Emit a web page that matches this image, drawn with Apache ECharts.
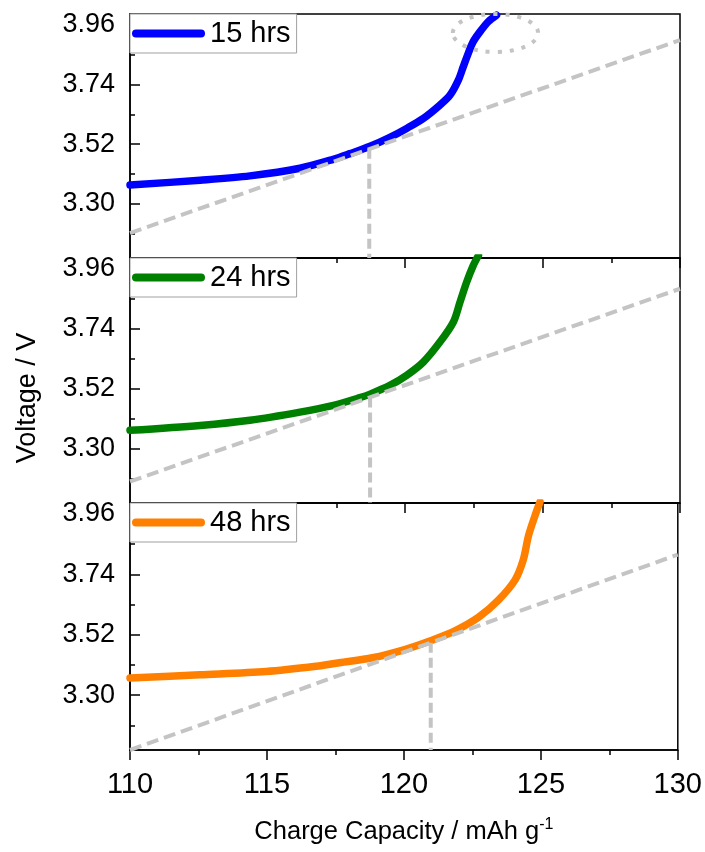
<!DOCTYPE html>
<html>
<head>
<meta charset="utf-8">
<script src="https://cdn.jsdelivr.net/npm/echarts@6/dist/echarts.min.js"></script>
<style>
html,body{margin:0;padding:0;background:#fff;}
#chart{width:705px;height:852px;}
</style>
</head>
<body>
<div id="chart"></div>
<script>
// ---- data ----
const seriesNames = ['15 hrs', '24 hrs', '48 hrs'];
const seriesColors = ['#0000ff', '#008000', '#ff8000'];

const capacity15 = [110, 112.55, 114.36, 116.18, 117.39, 118.0, 118.73, 119.45, 120.06, 120.67, 121.27, 121.64, 121.94, 122.12, 122.30, 122.48, 122.73, 123.03, 123.33];
const voltage15  = [3.369, 3.387, 3.403, 3.431, 3.464, 3.485, 3.512, 3.545, 3.578, 3.615, 3.664, 3.701, 3.756, 3.806, 3.855, 3.898, 3.935, 3.972, 3.996];

const capacity24 = [110, 112.55, 114.36, 116.18, 117.4, 118.36, 118.73, 119.45, 120.06, 120.67, 121.27, 121.76, 122.0, 122.24, 122.48, 122.67];
const voltage24  = [3.367, 3.385, 3.404, 3.434, 3.459, 3.487, 3.500, 3.532, 3.569, 3.618, 3.691, 3.765, 3.838, 3.911, 3.972, 4.009];

const capacity48 = [110, 112.55, 114.97, 116.79, 117.64, 118.85, 120.06, 120.97, 121.88, 122.73, 123.45, 124.06, 124.36, 124.55, 124.79, 124.97];
const voltage48  = [3.362, 3.374, 3.386, 3.405, 3.418, 3.436, 3.467, 3.498, 3.535, 3.584, 3.646, 3.720, 3.794, 3.881, 3.955, 4.004];

// tangent (dashed) lines: capacity endpoints and voltage endpoints per panel
const tangentCapacity = [110, 130];
const tangent15 = [3.192, 3.904];
const tangent24 = [3.179, 3.887];
const tangent48 = [3.100, 3.812];

// vertical drop lines
const dropCapacity = [118.7, 118.73, 120.98];
const dropTop = [3.503, 3.488, 3.491];
const dropBottom = 3.10;

// dotted ellipse annotation in top panel: [centerCapacity, centerVoltage, radiusCapacity, radiusVoltage]
const ellipse15 = [123.29, 3.930, 1.55, 0.070];

// axes
const xMin = 110, xMax = 130, xInterval = 5;
const yMin = 3.10, yMax = 4.00;
const yMajorTicks = [3.30, 3.52, 3.74, 3.96];
const yMinorTicks = [3.19, 3.41, 3.63, 3.85];

// ---- chart ----
const FONT = 'Liberation Sans, Arial, sans-serif';
const capacities = [capacity15, capacity24, capacity48];
const voltages = [voltage15, voltage24, voltage48];
const tangents = [tangent15, tangent24, tangent48];

const gridTops = [14, 258, 503];
const gridHeights = [244, 245, 247];

const zip = (a, b) => a.map((v, i) => [v, b[i]]);

const grids = [0,1,2].map(i => ({
  left: 130, top: gridTops[i], width: 550, height: gridHeights[i],
  show: true, borderColor: '#000', borderWidth: 1.5, backgroundColor: 'transparent'
}));

const xAxes = [0,1,2].map(i => ({
  type: 'value', gridIndex: i, min: xMin, max: xMax, interval: xInterval,
  axisLine: {show: true, onZero: false, lineStyle: {color: '#000', width: 1.5}},
  axisTick: {show: true, inside: false, length: 10, lineStyle: {color: '#000', width: 1.5}},
  minorTick: {show: true, splitNumber: 2, length: 5, lineStyle: {color: '#000', width: 1.5}},
  axisLabel: {show: i === 2, fontSize: 29, color: '#000', margin: 20, fontFamily: FONT},
  splitLine: {show: false}, minorSplitLine: {show: false},
  name: i === 2 ? '{a|Charge Capacity / mAh g}{b|-1}' : '',
  nameLocation: 'middle', nameGap: 67,
  nameTextStyle: {
    rich: {
      a: {fontSize: 25.5, color: '#000', fontFamily: FONT, lineHeight: 30},
      b: {fontSize: 16, color: '#000', fontFamily: FONT, verticalAlign: 'top', lineHeight: 30}
    }
  }
}));

const yAxes = [];
[0,1,2].forEach(i => {
  yAxes.push({
    type: 'value', gridIndex: i, min: yMin, max: yMax, position: 'left',
    axisLine: {show: true, onZero: false, lineStyle: {color: '#000', width: 1.5}},
    axisTick: {show: true, inside: true, length: 10, customValues: yMajorTicks, lineStyle: {color: '#000', width: 1.5}},
    axisLabel: {show: true, customValues: yMajorTicks, formatter: v => Number(v).toFixed(2), fontSize: 27, color: '#000', margin: 15, fontFamily: FONT},
    splitLine: {show: false}
  });
  yAxes.push({
    type: 'value', gridIndex: i, min: yMin, max: yMax, position: 'left', offset: 0,
    axisLine: {show: false},
    axisTick: {show: true, inside: true, length: 5, customValues: yMinorTicks, lineStyle: {color: '#000', width: 1.5}},
    axisLabel: {show: false},
    splitLine: {show: false}
  });
});

const series = [];
[0,1,2].forEach(i => {
  series.push({
    type: 'line', name: seriesNames[i], xAxisIndex: i, yAxisIndex: i*2,
    data: zip(capacities[i], voltages[i]), symbol: 'none', smooth: 0.3, clip: true,
    lineStyle: {width: 7.5, color: seriesColors[i], cap: 'round', join: 'round'},
    itemStyle: {color: seriesColors[i]}, z: 2, silent: true
  });
  series.push({
    type: 'line', name: 'tangent' + i, xAxisIndex: i, yAxisIndex: i*2,
    data: zip(tangentCapacity, tangents[i]), symbol: 'none', clip: true,
    lineStyle: {width: 4, color: '#c4c4c4', type: [12, 6]}, z: 3, silent: true
  });
  series.push({
    type: 'line', name: 'drop' + i, xAxisIndex: i, yAxisIndex: i*2,
    data: [[dropCapacity[i], dropTop[i]], [dropCapacity[i], dropBottom]], symbol: 'none', clip: true,
    lineStyle: {width: 4, color: '#c4c4c4', type: [10, 5]}, z: 3, silent: true
  });
});

const legendIcon = 'path://M4,0 H69 A4,4 0 0 1 69,8 H4 A4,4 0 0 1 4,0 Z';
const legends = [0,1,2].map(i => ({
  data: [{name: seriesNames[i], icon: legendIcon, itemStyle: {color: seriesColors[i]}}],
  left: 130, top: gridTops[i], orient: 'horizontal',
  itemWidth: 73, itemHeight: 8, padding: [3, 6, 3, 2],
  borderColor: '#a0a0a0', borderWidth: 1, backgroundColor: '#fff',
  selectedMode: false,
  textStyle: {fontSize: 29, color: '#000', fontFamily: FONT, lineHeight: 33}
}));

const chart = echarts.init(document.getElementById('chart'), null, {renderer: 'canvas'});
chart.setOption({
  animation: false,
  backgroundColor: '#fff',
  grid: grids, xAxis: xAxes, yAxis: yAxes, legend: legends, series: series
});

const c = chart.convertToPixel({xAxisIndex: 0, yAxisIndex: 0}, [ellipse15[0], ellipse15[1]]);
const e = chart.convertToPixel({xAxisIndex: 0, yAxisIndex: 0}, [ellipse15[0] + ellipse15[2], ellipse15[1] - ellipse15[3]]);
chart.setOption({
  graphic: [
    {
      id: 'ytitle', type: 'text', x: 28, y: 398, rotation: Math.PI / 2,
      style: {text: 'Voltage / V', fontSize: 27, fill: '#000', fontFamily: FONT, align: 'center', verticalAlign: 'middle'}
    },
    {
      id: 'ell', type: 'ellipse', z: 10,
      shape: {cx: c[0], cy: c[1], rx: Math.abs(e[0] - c[0]), ry: Math.abs(e[1] - c[1])},
      style: {fill: 'none', stroke: '#c4c4c4', lineWidth: 4, lineDash: [4, 8]}
    }
  ]
});
</script>
</body>
</html>
